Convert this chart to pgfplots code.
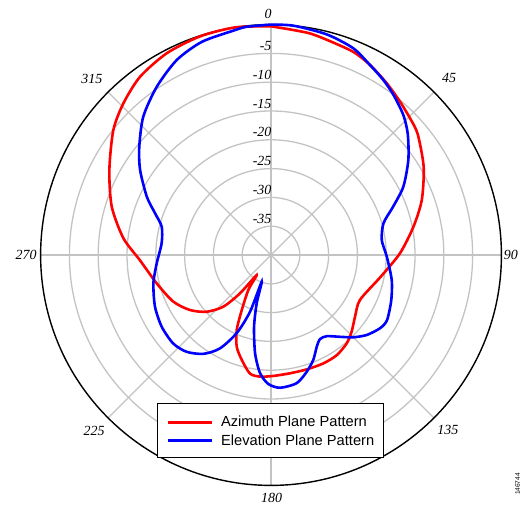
\documentclass[border=0pt]{standalone}
\usepackage{fontspec}
\setmainfont{Liberation Serif}
\newfontfamily\legfont{Liberation Sans}
\usepackage{pgfplots}
\pgfplotsset{compat=1.18}
\usepackage{pgfplotstable}
\definecolor{gridgray}{RGB}{195,195,195}

\pgfplotstableread{
ang db
0 -0.3
5.7 -0.75
10 -0.95
14.5 -1.4
22 -1.95
27.5 -2.8
34 -4.05
40 -5.2
45.5 -6.15
50.5 -7.0
60 -9.4
70 -12.15
78.8 -14.8
89.2 -17.6
101.3 -20.6
116.8 -22.7
126.3 -21.9
133.5 -20.7
139.4 -19.8
146.7 -19.2
154.2 -19.1
162.7 -19.2
170.9 -19.2
178.9 -19.0
185.2 -18.8
190.1 -19.1
195.6 -21.1
200.5 -23.0
204.6 -25.7
208.0 -29.2
213.0 -32.8
215.6 -35.7
219.0 -31.4
222.7 -27.8
228.6 -25.1
235.8 -23.0
244.5 -21.2
256.1 -19.55
267.8 -17.2
276.5 -14.2
286.9 -11.1
297.7 -8.3
308.4 -5.07
315.8 -3.25
323.7 -1.6
332.7 -0.57
342 -0.1
351 0
360 -0.3
}\azimuth

\pgfplotstableread{
ang db
0 0
5.6 0
14.2 -0.5
21.7 -1.37
27.5 -2.8
32.7 -3.9
37.4 -5.0
43.4 -6.56
48.5 -8.3
55.3 -11.0
62.7 -14.15
68.4 -17.2
74.2 -19.7
82.3 -20.6
90.8 -19.9
101.7 -18.6
110.6 -17.7
119.3 -16.9
123.9 -17.2
129.9 -18.35
135 -19.8
139.8 -21.4
145.5 -22.9
149.8 -23.1
153.5 -22.2
158.1 -20.35
163 -18.8
168.7 -17.3
176.1 -16.9
181.2 -17.6
185.3 -19.4
189.2 -22.7
193.3 -27.2
196.5 -31.25
199.2 -35.1
200.3 -29.5
203.7 -25.2
208.7 -21.5
214.4 -19.2
221.1 -17.7
227.9 -17.1
236.7 -17.3
246 -17.95
256.5 -19.0
265.8 -20.1
276.1 -20.9
284.5 -20.4
289.8 -18.6
295.1 -16.2
303 -12.9
309.4 -10.4
317.3 -7.3
325.8 -4.7
334.2 -2.4
342 -1.1
350.5 -0.5
354 -0.15
360 0
}\elevation

\begin{document}
\begin{tikzpicture}
\begin{axis}[
  x=5.76bp, y=5.76bp,
  xmin=-47.05, xmax=44.44, ymin=-43.58, ymax=44.27,
  hide axis, clip=false,
  legend style={at={(0.5133,0.1492)}, anchor=center, draw=black, line width=1.3bp, fill=white,
    font=\legfont\fontsize{14.7}{16}\selectfont, inner xsep=9bp, inner ysep=8.8bp,
    nodes={inner sep=0pt, text height=14.6bp, text depth=3.8bp},
    column sep=8.3bp, cells={anchor=west}},
  legend image code/.code={\draw[#1, line width=2.6bp] (0bp,-1bp) -- (43.4bp,-1bp);},
]
% grid circles
\draw[gridgray, line width=1.3bp] (axis cs:0,0) circle[radius=5];
\draw[gridgray, line width=1.3bp] (axis cs:0,0) circle[radius=10];
\draw[gridgray, line width=1.3bp] (axis cs:0,0) circle[radius=15];
\draw[gridgray, line width=1.3bp] (axis cs:0,0) circle[radius=20];
\draw[gridgray, line width=1.3bp] (axis cs:0,0) circle[radius=25];
\draw[gridgray, line width=1.3bp] (axis cs:0,0) circle[radius=30];
\draw[gridgray, line width=1.3bp] (axis cs:0,0) circle[radius=35];
% spokes
\draw[gridgray, line width=1.3bp] (axis cs:0,40) -- (axis cs:0,-40);
\draw[gridgray, line width=1.3bp] (axis cs:-40,0) -- (axis cs:40,0);
\draw[gridgray, line width=1.3bp] (axis cs:28.284,28.284) -- (axis cs:-28.284,-28.284);
\draw[gridgray, line width=1.3bp] (axis cs:-28.284,28.284) -- (axis cs:28.284,-28.284);
\draw[black, line width=1.4bp] (axis cs:0,0) circle[radius=40];

\addplot[red, line width=2.6bp, smooth, tension=0.45] table[
  x expr={(\thisrow{db}+40)*sin(\thisrow{ang})},
  y expr={(\thisrow{db}+40)*cos(\thisrow{ang})}] {\azimuth};
\addlegendentry{Azimuth Plane Pattern}
\addplot[blue, line width=2.6bp, smooth, tension=0.45] table[
  x expr={(\thisrow{db}+40)*sin(\thisrow{ang})},
  y expr={(\thisrow{db}+40)*cos(\thisrow{ang})}] {\elevation};
\addlegendentry{Elevation Plane Pattern}

% angle labels
\node[inner sep=0pt, font=\fontsize{14}{16}\selectfont\itshape] at (axis cs:-0.5,41.8) {0};
\node[inner sep=0pt, font=\fontsize{14}{16}\selectfont\itshape] at (axis cs:30.9,30.7) {45};
\node[inner sep=0pt, anchor=west, font=\fontsize{14}{16}\selectfont\itshape] at (axis cs:40.4,0) {90};
\node[inner sep=0pt, font=\fontsize{14}{16}\selectfont\itshape] at (axis cs:30.7,-30.3) {135};
\node[inner sep=0pt, font=\fontsize{14}{16}\selectfont\itshape] at (axis cs:0.1,-42.1) {180};
\node[inner sep=0pt, font=\fontsize{14}{16}\selectfont\itshape] at (axis cs:-30.7,-30.5) {225};
\node[inner sep=0pt, anchor=east, font=\fontsize{14}{16}\selectfont\itshape] at (axis cs:-40.68,0) {270};
\node[inner sep=0pt, font=\fontsize{14}{16}\selectfont\itshape] at (axis cs:-31.1,30.6) {315};
% radial labels
\node[inner sep=0pt, anchor=east, font=\fontsize{14}{16}\selectfont\itshape] at (axis cs:0.1,36.3) {-5};
\node[inner sep=0pt, anchor=east, font=\fontsize{14}{16}\selectfont\itshape] at (axis cs:0.1,31.3) {-10};
\node[inner sep=0pt, anchor=east, font=\fontsize{14}{16}\selectfont\itshape] at (axis cs:0.1,26.3) {-15};
\node[inner sep=0pt, anchor=east, font=\fontsize{14}{16}\selectfont\itshape] at (axis cs:0.1,21.3) {-20};
\node[inner sep=0pt, anchor=east, font=\fontsize{14}{16}\selectfont\itshape] at (axis cs:0.1,16.3) {-25};
\node[inner sep=0pt, anchor=east, font=\fontsize{14}{16}\selectfont\itshape] at (axis cs:0.1,11.3) {-30};
\node[inner sep=0pt, anchor=east, font=\fontsize{14}{16}\selectfont\itshape] at (axis cs:0.1,6.3) {-35};
\node[inner sep=0pt, rotate=90, font=\legfont\fontsize{6.6}{7}\selectfont] at (axis cs:42.83,-39.76) {146744};
\end{axis}
\pgfresetboundingbox
\useasboundingbox (current axis.south west) rectangle (current axis.north east);
\end{tikzpicture}
\end{document}
